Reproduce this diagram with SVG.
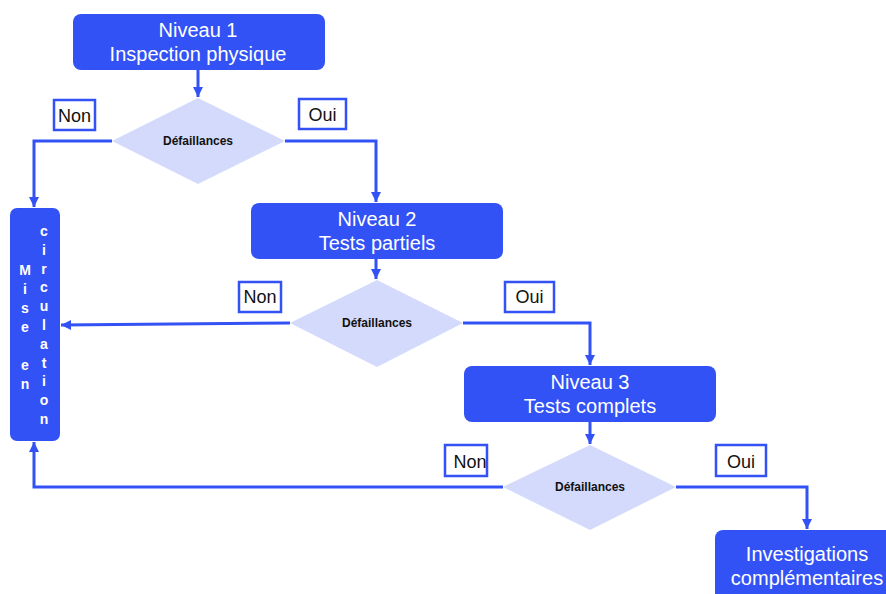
<svg xmlns="http://www.w3.org/2000/svg" width="886" height="594" viewBox="0 0 886 594">
<style>
.box{fill:#3352F5;}
.bt{fill:#fff;font-family:"Liberation Sans",Arial,sans-serif;font-size:20px;text-anchor:middle;}
.vt{fill:#fff;font-family:"Liberation Sans",Arial,sans-serif;font-size:14px;font-weight:bold;text-anchor:middle;}
.dia{fill:#D4DAFB;}
.dt{fill:#111;font-family:"Liberation Sans",Arial,sans-serif;font-size:12px;font-weight:bold;text-anchor:middle;}
.lb{fill:#fff;stroke:#3352F5;stroke-width:2.5;}
.lt{fill:#111;font-family:"Liberation Sans",Arial,sans-serif;font-size:18px;text-anchor:middle;}
.con{fill:none;stroke:#3352F5;stroke-width:3;}
</style>
<defs>
<marker id="ah" markerUnits="userSpaceOnUse" markerWidth="12" markerHeight="12" refX="10" refY="5" orient="auto">
<path d="M0,0 L10,5 L0,10 Z" fill="#3352F5"/>
</marker>
</defs>
<rect width="886" height="594" fill="#fff"/>

<g id="connectors">
<path class="con" d="M198,70 L198,97" marker-end="url(#ah)"/>
<path class="con" d="M112,141 L34,141 L34,207" marker-end="url(#ah)"/>
<path class="con" d="M285,141 L376,141 L376,202" marker-end="url(#ah)"/>
<path class="con" d="M376,259 L376,279" marker-end="url(#ah)"/>
<path class="con" d="M290,323 L61,325" marker-end="url(#ah)"/>
<path class="con" d="M463,323 L590,323 L590,365" marker-end="url(#ah)"/>
<path class="con" d="M590,422 L590,444" marker-end="url(#ah)"/>
<path class="con" d="M503,487 L34,487 L34,442" marker-end="url(#ah)"/>
<path class="con" d="M676,487 L807,487 L807,529" marker-end="url(#ah)"/>
</g>

<g id="niveau1">
<rect class="box" x="73" y="14" width="252" height="56" rx="8"/>
<text class="bt" x="198" y="37">Niveau 1</text>
<text class="bt" x="198" y="61">Inspection physique</text>
</g>

<g id="defaillances1">
<polygon class="dia" points="198,98 285,141 198,184 112,141"/>
<text class="dt" x="198" y="145">Défaillances</text>
</g>
<g id="non1">
<rect class="lb" x="54" y="100" width="41" height="30"/>
<text class="lt" x="74.5" y="122">Non</text>
</g>
<g id="oui1">
<rect class="lb" x="299" y="99" width="47" height="30"/>
<text class="lt" x="322.5" y="121">Oui</text>
</g>

<g id="niveau2">
<rect class="box" x="251" y="203" width="252" height="56" rx="8"/>
<text class="bt" x="377" y="226">Niveau 2</text>
<text class="bt" x="377" y="250">Tests partiels</text>
</g>

<g id="defaillances2">
<polygon class="dia" points="377,280 463,323 377,367 290,323"/>
<text class="dt" x="377" y="327">Défaillances</text>
</g>
<g id="non2">
<rect class="lb" x="239" y="282" width="42" height="30"/>
<text class="lt" x="260" y="303">Non</text>
</g>
<g id="oui2">
<rect class="lb" x="505" y="282" width="49" height="30"/>
<text class="lt" x="529.5" y="303">Oui</text>
</g>

<g id="niveau3">
<rect class="box" x="464" y="366" width="252" height="56" rx="8"/>
<text class="bt" x="590" y="389">Niveau 3</text>
<text class="bt" x="590" y="413">Tests complets</text>
</g>

<g id="defaillances3">
<polygon class="dia" points="590,445 676,487 590,530 503,487"/>
<text class="dt" x="590" y="491">Défaillances</text>
</g>
<g id="non3">
<rect class="lb" x="445" y="445" width="42" height="31"/>
<text class="lt" x="470" y="468">Non</text>
</g>
<g id="oui3">
<rect class="lb" x="716" y="445" width="50" height="31"/>
<text class="lt" x="741" y="468">Oui</text>
</g>

<g id="investigations">
<rect class="box" x="715" y="530" width="186" height="80" rx="8"/>
<text class="bt" x="807" y="561">Investigations</text>
<text class="bt" x="807" y="585">complémentaires</text>
</g>

<g id="mise-en-circulation">
<rect class="box" x="10" y="208" width="50" height="233" rx="7"/>
<text class="vt">
<tspan x="25" y="275">M</tspan><tspan x="25" y="294">i</tspan><tspan x="25" y="313">s</tspan><tspan x="25" y="332">e</tspan><tspan x="25" y="370">e</tspan><tspan x="25" y="389">n</tspan>
</text>
<text class="vt">
<tspan x="44" y="236">c</tspan><tspan x="44" y="255">i</tspan><tspan x="44" y="274">r</tspan><tspan x="44" y="292">c</tspan><tspan x="44" y="311">u</tspan><tspan x="44" y="330">l</tspan><tspan x="44" y="349">a</tspan><tspan x="44" y="368">t</tspan><tspan x="44" y="386">i</tspan><tspan x="44" y="405">o</tspan><tspan x="44" y="424">n</tspan>
</text>
</g>
</svg>
